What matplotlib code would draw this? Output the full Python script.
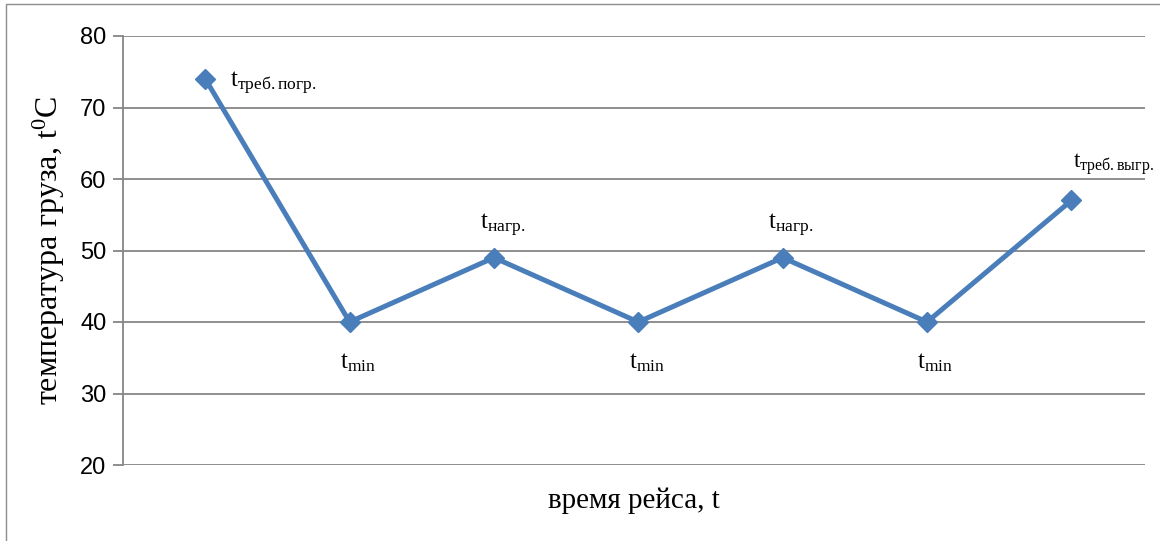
import matplotlib
matplotlib.use("Agg")
import matplotlib.pyplot as plt
from matplotlib.patches import Rectangle

plt.rcParams['mathtext.fontset'] = 'custom'
plt.rcParams['mathtext.rm'] = 'Liberation Serif'
plt.rcParams['mathtext.it'] = 'Liberation Serif:italic'
plt.rcParams['mathtext.bf'] = 'Liberation Serif:bold'

# данные
points = [0, 1, 2, 3, 4, 5, 6]
temps = [74, 40, 49, 40, 49, 40, 57]
labels = ["треб.погр.", "min", "нагр.", "min", "нагр.", "min", "треб.выгр."]
yticks = [20, 30, 40, 50, 60, 70, 80]

fig = plt.figure(figsize=(11.6, 5.41), dpi=100)
ax = fig.add_axes([123/1160, 1 - 465/541, (1145-123)/1160, (465-36)/541])

ax.plot(points, temps, color="#4a7ebb", lw=3.6, marker="D", ms=10, zorder=3)

# подписи точек
for x, y, lab in zip(points, temps, labels):
    txt = r"t$_{\mathrm{" + lab + "}}$"
    if lab == "min":
        ax.annotate(txt, (x, y), xytext=(6, -29), textcoords="offset points",
                    ha="center", va="center", fontsize=18, family="Liberation Serif")
    elif lab == "нагр.":
        ax.annotate(txt, (x, y), xytext=(6, 23), textcoords="offset points",
                    ha="center", va="center", fontsize=18, family="Liberation Serif")
    elif lab == "треб.погр.":
        ax.annotate(txt, (x, y), xytext=(18, -3), textcoords="offset points",
                    ha="left", va="center", fontsize=18, family="Liberation Serif")
    else:
        ax.annotate(txt, (x, y), xytext=(1, 26), textcoords="offset points",
                    ha="left", va="center", fontsize=16.5, family="Liberation Serif",
                    annotation_clip=False)

ax.set_xlim(-0.57, 6.51)
ax.set_ylim(20, 80)
ax.set_yticks(yticks)
ax.set_xticks([])
ax.grid(axis="y", color="#868686", lw=1.3)
ax.set_axisbelow(True)
for s in ["top", "right", "bottom"]:
    ax.spines[s].set_visible(False)
ax.spines["left"].set_color("#868686")
ax.spines["left"].set_linewidth(1.3)
ax.tick_params(axis="y", length=7, color="#868686", width=1.3, labelsize=17, pad=5)
for t in ax.get_yticklabels():
    t.set_family("Liberation Sans")

ax.set_ylabel(r"температура груза, t$^{\mathrm{0}}$C", fontsize=23,
              family="Liberation Serif", labelpad=9)
ax.set_xlabel("время рейса, t", fontsize=21, family="Liberation Serif", labelpad=16)

fig.patches.append(Rectangle((6/1160, -0.01), 1.02, 1 - 4/541 + 0.01, transform=fig.transFigure,
                             fill=False, edgecolor="#8c8c8c", lw=1.0))

fig.savefig("out.png", dpi=100)
